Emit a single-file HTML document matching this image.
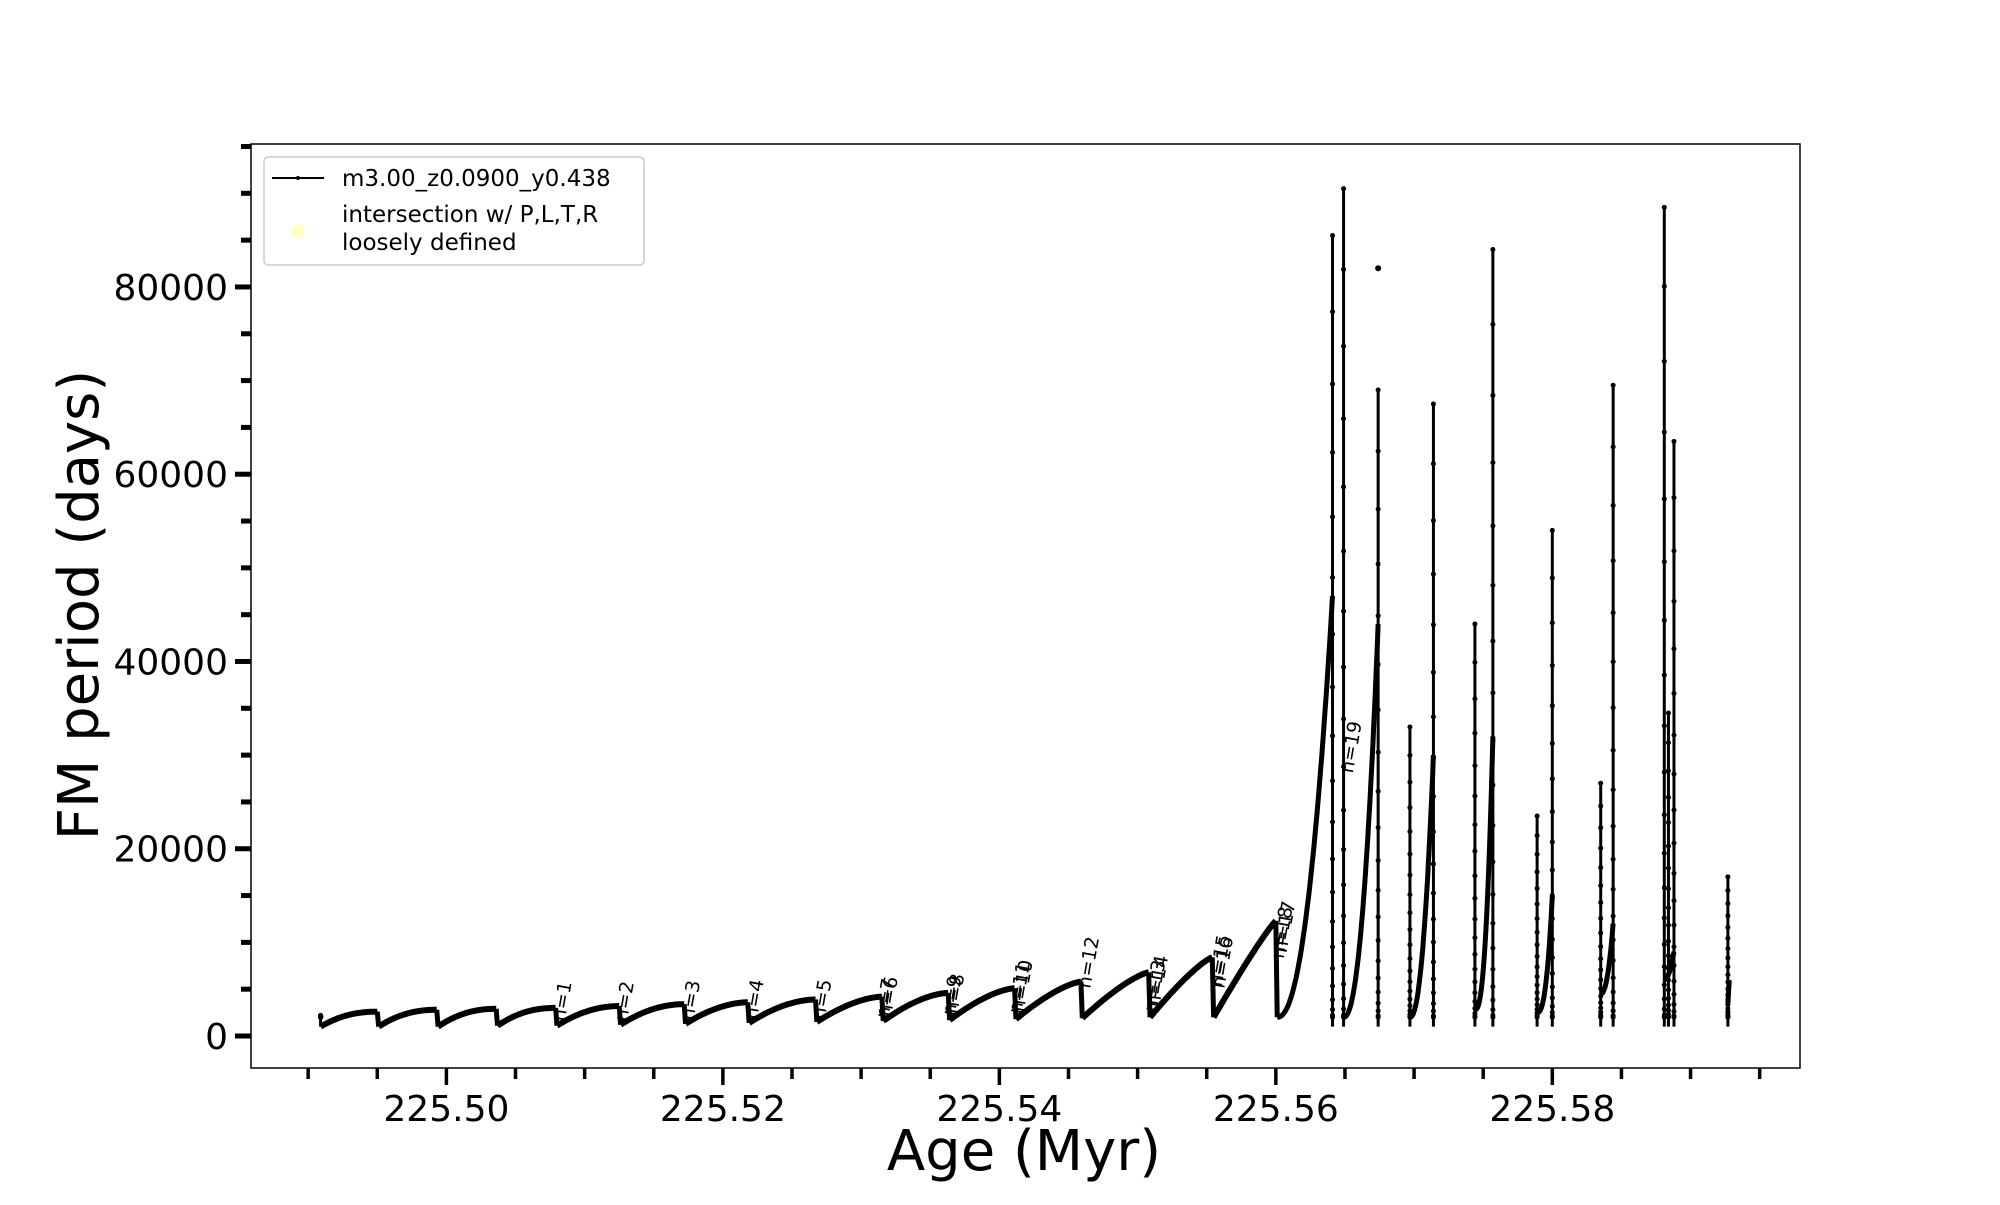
<!DOCTYPE html>
<html><head><meta charset="utf-8"><style>
html,body{margin:0;padding:0;background:#fff;}
svg text{font-family:"DejaVu Sans","Liberation Sans",sans-serif;}
</style></head><body>
<svg id="chart" width="2000" height="1200" viewBox="0 0 2000 1200" xmlns="http://www.w3.org/2000/svg">
<rect width="2000" height="1200" fill="#fff"/>
<g id="plot"></g>
<rect x="251" y="144" width="1549" height="924" fill="none" stroke="#000" stroke-width="1.5"/>
<g id="axes"></g>
<text x="1024" y="1170" font-size="56" text-anchor="middle">Age (Myr)</text>
<text transform="translate(98,605) rotate(-90)" font-size="56" text-anchor="middle">FM period (days)</text>
<g>
<rect x="264" y="157" width="380" height="108" rx="4" fill="#fff" fill-opacity="0.8" stroke="#ccc" stroke-width="1.5"/>
<line x1="272" y1="178" x2="324" y2="178" stroke="#000" stroke-width="2"/>
<circle cx="298" cy="178" r="2" fill="#000"/>
<text x="342" y="186" font-size="23">m3.00_z0.0900_y0.438</text>
<circle cx="298" cy="231" r="7" fill="#ffffc0" fill-opacity="0.9"/>
<text x="342" y="222" font-size="23">intersection w/ P,L,T,R</text>
<text x="342" y="250" font-size="23">loosely defined</text>
</g>
</svg>
<script>
// data arrays
const cycleStart = [225.4909,225.4951,225.4994,225.5037,225.5080,225.5126,225.5173,225.5219,225.5268,225.5316,225.5364,225.5412,225.5460,225.5509,225.5555,225.5601,225.5649,225.5697,225.5744,225.5789,225.5835,225.5881,225.5927];
const cycleEnd   = [225.4950,225.4993,225.5036,225.5079,225.5125,225.5172,225.5218,225.5267,225.5315,225.5363,225.5411,225.5459,225.5508,225.5554,225.5600,225.5641,225.5674,225.5714,225.5757,225.5800,225.5844,225.5888,225.5928];
const cycleLow   = [1000,1000,1000,1100,1100,1200,1300,1400,1500,1600,1700,1800,1900,2000,2000,2000,2000,2000,2800,2500,4500,6000,3500];
const cyclePeak  = [2600,2800,2900,3000,3200,3400,3600,3900,4200,4600,5100,5800,6800,8400,12300,47000,44000,30000,32000,15000,12000,9000,6000];
const cycleShape = [0.45,0.45,0.45,0.45,0.5,0.5,0.55,0.55,0.6,0.6,0.65,0.7,0.75,0.8,0.9,2.2,2.2,2.2,2.5,2.5,2.2,2,1];
const spikeAge   = [225.4909,225.5641,225.5649,225.5674,225.5697,225.5714,225.5744,225.5757,225.5789,225.5800,225.5835,225.5844,225.5881,225.5884,225.5888,225.5927];
const spikeTop   = [2200,85500,90500,69000,33000,67500,44000,84000,23500,54000,27000,69500,88500,34500,63500,17000];
const strayAge = [225.5674];
const strayVal = [82000];
const labelText = ["n=1","n=2","n=3","n=4","n=5","n=6","n=7","n=8","n=9","n=10","n=11","n=12","n=13","n=14","n=15","n=16","n=17","n=18","n=19"];
const labelAge  = [225.5082,225.5127,225.5175,225.5221,225.5270,225.5318,225.5316,225.5366,225.5364,225.5414,225.5412,225.5462,225.5510,225.5512,225.5557,225.5559,225.5604,225.5602,225.5652];
const labelVal  = [1500,1500,1600,1700,1700,2000,1800,2300,2100,2500,2300,5000,2500,3000,5200,5000,8800,8200,28000];
const xTicksMajor = [225.50,225.52,225.54,225.56,225.58];
const xTickLabels = ["225.50","225.52","225.54","225.56","225.58"];
const yTicksMajor = [0,20000,40000,60000,80000];
const yTickLabels = ["0","20000","40000","60000","80000"];

const X = a => 446.4 + (a - 225.50) * 13824;
const Y = v => 1036 - v * 0.009363;
const NS = "http://www.w3.org/2000/svg";
const plot = document.getElementById('plot');
const axes = document.getElementById('axes');
function mk(tag, attrs, parent){const e=document.createElementNS(NS,tag);for(const k in attrs)e.setAttribute(k,attrs[k]);parent.appendChild(e);return e;}

for (let i=0;i<cycleStart.length;i++){
  const pts=[];
  const n=60;
  for(let j=0;j<=n;j++){
    const t=j/n;
    const f = cycleShape[i]<1 ? 1-Math.pow(1-t,1/cycleShape[i]) : Math.pow(t,cycleShape[i]);
    const a=cycleStart[i]+(cycleEnd[i]-cycleStart[i])*t;
    const v=cycleLow[i]+(cyclePeak[i]-cycleLow[i])*f;
    pts.push(X(a).toFixed(1)+','+Y(v).toFixed(1));
  }
  const pl = mk('polyline',{points:pts.join(' '),fill:'none',stroke:'#000','stroke-width':i<15?6:5,'stroke-linejoin':'round'},plot);
  
  
  if(i<15 && i+1<cycleStart.length){
    const d = mk('line',{x1:X(cycleEnd[i]),y1:Y(cyclePeak[i]),x2:X(cycleStart[i+1]),y2:Y(cycleLow[i+1]),stroke:'#000','stroke-width':5},plot);
    
    
  }
}
for(let i=0;i<spikeAge.length;i++){
  const base = Math.min(2000, spikeTop[i]);
  const l = mk('line',{x1:X(spikeAge[i]),y1:Y(1000),x2:X(spikeAge[i]),y2:Y(spikeTop[i]),stroke:'#000','stroke-width':3},plot);
  
  
  for(let k=0;k<=20;k++){
    const v=base+(spikeTop[i]-base)*Math.pow(k/20,2);
    const c=mk('circle',{cx:X(spikeAge[i]),cy:Y(v),r:2.5,fill:'#000'},plot);
    
    
  }
}
for(let i=0;i<strayAge.length;i++){
  const c=mk('circle',{cx:X(strayAge[i]),cy:Y(strayVal[i]),r:3,fill:'#000'},plot);
  
  
}
for(let i=0;i<labelText.length;i++){
  const t=mk('text',{transform:`translate(${X(labelAge[i])+5},${Y(labelVal[i])}) rotate(-80)`,'font-size':19,fill:'#000'},plot);
  t.textContent=labelText[i];
  
  
}
for(let a=225.49;a<=225.5951;a+=0.005){
  const major = xTicksMajor.some(m=>Math.abs(m-a)<1e-6);
  const l=mk('line',{x1:X(a),y1:1068,x2:X(a),y2:major?1085:1079,stroke:'#000','stroke-width':3.5},axes);
  
  
}
xTicksMajor.forEach((a,i)=>{
  const t=mk('text',{x:X(a),y:1121,'font-size':36,'text-anchor':'middle'},axes);
  t.textContent=xTickLabels[i];
  
  
});
for(let v=0;v<=95000;v+=5000){
  const major = yTicksMajor.includes(v);
  const l=mk('line',{x1:major?235:241,y1:Y(v),x2:251,y2:Y(v),stroke:'#000','stroke-width':5},axes);
  
  
}
yTicksMajor.forEach((v,i)=>{
  const t=mk('text',{x:228,y:Y(v)+13,'font-size':36,'text-anchor':'end'},axes);
  t.textContent=yTickLabels[i];
  
  
});
</script>
</body></html>
